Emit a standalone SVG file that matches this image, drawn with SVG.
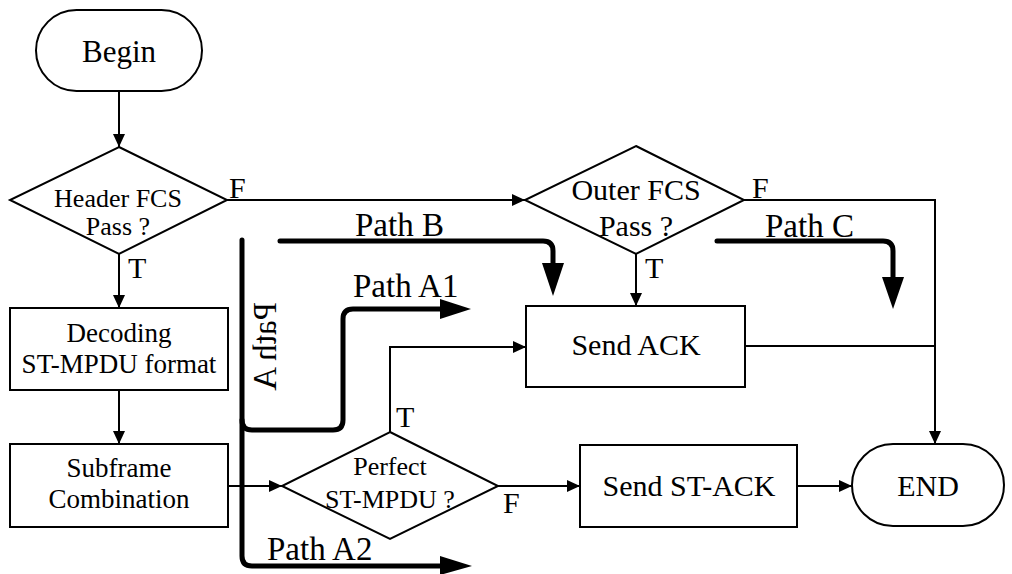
<svg xmlns="http://www.w3.org/2000/svg" width="1012" height="574" viewBox="0 0 1012 574">
<style>
.shape{fill:#fff;stroke:#000;stroke-width:2}
.t{font-family:'Liberation Serif','Times New Roman',Times,'DejaVu Serif',serif;fill:#000;text-anchor:middle}
.l{font-family:'Liberation Serif','Times New Roman',Times,'DejaVu Serif',serif;fill:#000}
.c{fill:none;stroke:#000;stroke-width:2}
.thick{fill:none;stroke:#000;stroke-width:5;stroke-linecap:round;stroke-linejoin:round}
</style>
<defs>
<marker id="arr" markerUnits="userSpaceOnUse" markerWidth="13" markerHeight="12" refX="13" refY="6" orient="auto">
<path d="M0,0 L13,6 L0,12 z" fill="#000"/>
</marker>
</defs>
<rect width="1012" height="574" fill="#fff"/>
<g id="connectors">
<path class="c" d="M119,91 V147" marker-end="url(#arr)"/>
<path class="c" d="M119,254 V308" marker-end="url(#arr)"/>
<path class="c" d="M119,390 V444" marker-end="url(#arr)"/>
<path class="c" d="M228,486 H282" marker-end="url(#arr)"/>
<path class="c" d="M227,200 H525" marker-end="url(#arr)"/>
<path class="c" d="M636,254 V306" marker-end="url(#arr)"/>
<path class="c" d="M744,200 H935 V444" marker-end="url(#arr)"/>
<path class="c" d="M745,346 H935"/>
<path class="c" d="M390,432 V347 H526" marker-end="url(#arr)"/>
<path class="c" d="M498,486 H580" marker-end="url(#arr)"/>
<path class="c" d="M797,486 H852" marker-end="url(#arr)"/>
<text class="l" x="229" y="198" font-size="30">F</text>
<text class="l" x="128" y="278" font-size="30">T</text>
<text class="l" x="752" y="198" font-size="30">F</text>
<text class="l" x="645" y="278" font-size="30">T</text>
<text class="l" x="396" y="427" font-size="30">T</text>
<text class="l" x="503" y="513" font-size="30">F</text>
</g>
<g id="paths">
<path class="thick" d="M280,241 H543 Q553,241 553,251 V266"/>
<polygon points="542,263 564,263 553,296" fill="#000"/>
<text class="l" x="355" y="236" font-size="33">Path B</text>
<path class="thick" d="M717,241 H883 Q893,241 893,251 V279"/>
<polygon points="882,277 904,277 893,309" fill="#000"/>
<text class="l" x="765" y="237" font-size="33">Path C</text>
<path class="thick" d="M242,240 V556 Q242,566 252,566 H442"/>
<polygon points="440,556 440,575 472,566" fill="#000"/>
<text class="l" x="267" y="560" font-size="33">Path A2</text>
<path class="thick" d="M242,420 Q242,430 252,430 H333 Q343,430 343,420 V319 Q343,309 353,309 H442"/>
<polygon points="440,299 440,319 471,309" fill="#000"/>
<text class="l" x="353" y="297" font-size="33">Path A1</text>
<text class="l" x="0" y="0" font-size="33" transform="matrix(0 1 1 0 276 302)">Path A</text>
</g>
<g id="begin">
<rect class="shape" x="36" y="10" width="166" height="81" rx="40.5"/>
<text class="t" x="119" y="62" font-size="31">Begin</text>
</g>
<g id="header-fcs">
<polygon class="shape" points="119,147 227,200 119,254 10,200"/>
<text class="t" x="118" y="207" font-size="26">Header FCS</text>
<text class="t" x="118" y="235" font-size="26">Pass ?</text>
</g>
<g id="decoding">
<rect class="shape" x="10" y="308" width="218" height="82"/>
<text class="t" x="119" y="342" font-size="27">Decoding</text>
<text class="t" x="119" y="373" font-size="27">ST-MPDU format</text>
</g>
<g id="subframe">
<rect class="shape" x="10" y="444" width="218" height="83"/>
<text class="t" x="119" y="477" font-size="27">Subframe</text>
<text class="t" x="119" y="508" font-size="27">Combination</text>
</g>
<g id="perfect">
<polygon class="shape" points="390,432 498,486 390,539 282,486"/>
<text class="t" x="390" y="475" font-size="26">Perfect</text>
<text class="t" x="390" y="508" font-size="26">ST-MPDU ?</text>
</g>
<g id="outer-fcs">
<polygon class="shape" points="636,146 744,200 636,254 525,200"/>
<text class="t" x="636" y="200" font-size="30">Outer FCS</text>
<text class="t" x="636" y="236" font-size="30">Pass ?</text>
</g>
<g id="send-ack">
<rect class="shape" x="526" y="306" width="219" height="81"/>
<text class="t" x="636" y="355" font-size="30">Send ACK</text>
</g>
<g id="send-st-ack">
<rect class="shape" x="580" y="445" width="217" height="82"/>
<text class="t" x="689" y="496" font-size="30">Send ST-ACK</text>
</g>
<g id="end">
<rect class="shape" x="852" y="444" width="152" height="82" rx="41"/>
<text class="t" x="928" y="496" font-size="30">END</text>
</g>
</svg>
